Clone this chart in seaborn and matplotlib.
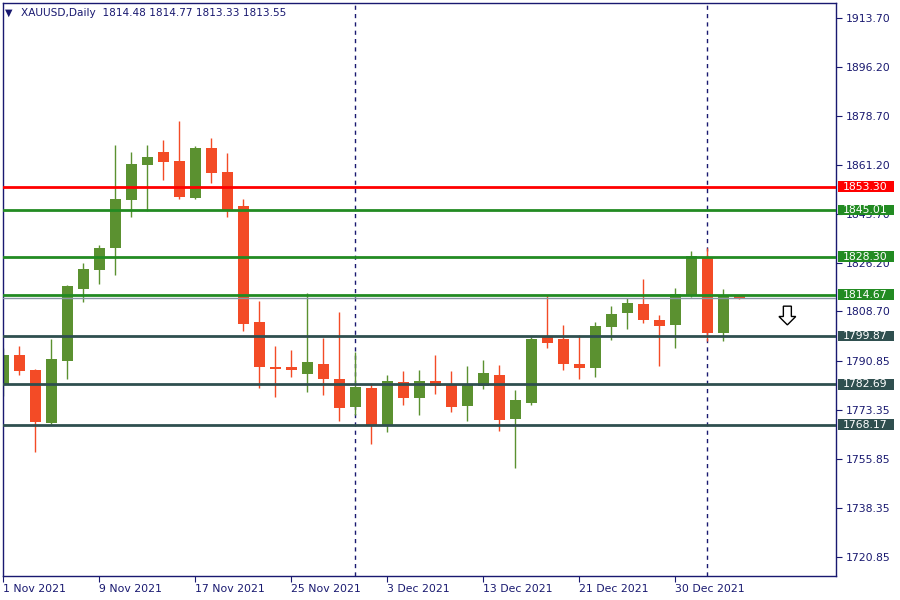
import numpy as np
import pandas as pd
import matplotlib
matplotlib.use("Agg")
import matplotlib.pyplot as plt
import matplotlib.transforms as mtransforms
from matplotlib.patches import Rectangle, FancyArrow
import seaborn as sns

# daily OHLC, XAUUSD, 1 Nov 2021 .. 3 Jan 2022
opens = [1782.75, 1793.12, 1787.76, 1768.90, 1790.98, 1816.74, 1823.54, 1831.52, 1848.69, 1861.21,
         1865.76, 1862.54, 1849.41, 1867.19, 1858.60, 1846.44, 1804.93, 1788.83, 1788.83, 1786.33,
         1789.90, 1784.54, 1774.52, 1781.32, 1767.72, 1783.46, 1777.74, 1783.82, 1782.39, 1774.88,
         1782.03, 1785.97, 1770.23, 1775.95, 1799.56, 1798.85, 1789.90, 1788.47, 1803.14, 1808.15,
         1811.37, 1805.65, 1803.86, 1814.23, 1828.19, 1801.00, 1814.48]
highs = [1795.74, 1796.34, 1788.12, 1798.85, 1818.17, 1826.04, 1832.48, 1868.26, 1865.76, 1868.26,
         1870.05, 1876.85, 1867.90, 1870.76, 1865.40, 1848.94, 1812.45, 1796.34, 1794.91, 1815.31,
         1799.21, 1808.51, 1794.20, 1783.11, 1785.97, 1787.40, 1787.76, 1793.12, 1787.40, 1789.19,
         1791.34, 1789.55, 1780.60, 1799.56, 1814.59, 1803.86, 1800.28, 1804.93, 1810.66, 1813.52,
         1820.32, 1807.44, 1817.10, 1830.33, 1831.41, 1816.74, 1814.77]
lows = [1778.56, 1785.97, 1758.53, 1768.33, 1784.54, 1812.20, 1818.53, 1821.75, 1842.61, 1844.75,
        1855.74, 1848.94, 1848.94, 1854.77, 1842.61, 1801.71, 1781.32, 1778.10, 1785.25, 1779.89,
        1778.81, 1769.51, 1771.66, 1761.28, 1765.57, 1775.24, 1771.66, 1779.17, 1772.73, 1769.51,
        1780.96, 1765.93, 1752.69, 1775.24, 1795.63, 1787.76, 1784.54, 1785.25, 1798.49, 1802.43,
        1804.57, 1789.19, 1795.63, 1813.87, 1798.13, 1798.13, 1813.33]
closes = [1793.12, 1787.51, 1769.15, 1791.69, 1817.81, 1823.89, 1831.41, 1848.94, 1861.46, 1863.97,
          1862.29, 1849.76, 1867.19, 1858.35, 1845.00, 1804.22, 1788.94, 1788.12, 1787.76, 1790.62,
          1784.54, 1774.16, 1781.68, 1768.08, 1783.82, 1777.74, 1783.82, 1782.03, 1774.52, 1782.75,
          1786.68, 1769.87, 1777.02, 1798.85, 1797.42, 1789.90, 1788.47, 1803.50, 1807.79, 1811.73,
          1805.65, 1803.50, 1814.95, 1828.55, 1801.00, 1814.23, 1813.55]

level_prices = [1853.30, 1845.01, 1828.30, 1814.67, 1799.87, 1782.69, 1768.17]
level_colors = ["#ff0000", "#228b22", "#228b22", "#228b22", "#2f4f4f", "#2f4f4f", "#2f4f4f"]
bid = 1813.55

y_ticks = [1913.70, 1896.20, 1878.70, 1861.20, 1843.70, 1826.20, 1808.70,
           1790.85, 1773.35, 1755.85, 1738.35, 1720.85]
date_idx = [0, 6, 12, 18, 24, 30, 36, 42]
date_labels = ["1 Nov 2021", "9 Nov 2021", "17 Nov 2021", "25 Nov 2021",
               "3 Dec 2021", "13 Dec 2021", "21 Dec 2021", "30 Dec 2021"]
separators = [22, 44]

df = pd.DataFrame({"open": opens, "high": highs, "low": lows, "close": closes})
df["x"] = np.arange(len(df))
df["up"] = df["close"] >= df["open"]

sns.set_style("white")
plt.rcParams["font.family"] = ["DejaVu Sans"]

NAVY = "#191970"
GREEN = "#5b9130"
RED = "#f34b26"

fig = plt.figure(figsize=(9, 6), dpi=100)
ax = fig.add_axes([3 / 900, 24 / 600, 833 / 900, 573 / 600])

colors = np.where(df["up"], GREEN, RED)

# period separators
for s in separators:
    ax.axvline(s, color=NAVY, lw=1, ls=(0, (3, 3)), zorder=1)

# candles
ax.vlines(df["x"], df["low"], df["high"], colors=colors, lw=1, zorder=2)
body_lo = df[["open", "close"]].min(axis=1)
body_h = (df["close"] - df["open"]).abs().clip(lower=0.6)
ax.bar(df["x"], body_h, bottom=body_lo, width=0.69, color=colors, linewidth=0, zorder=2)

# bid line
ax.axhline(bid, color="#8a97a6", lw=1, zorder=3)

# horizontal levels
for p, c in zip(level_prices, level_colors):
    ax.axhline(p, color=c, lw=2, zorder=4)

# arrow
ax.add_patch(FancyArrow(49, 1810.6, 0, -6.7, width=0.5, head_width=1.05, head_length=3.0,
                        length_includes_head=True, fc="white", ec="black", lw=1, zorder=5))

ax.set_xlim(-0.02, 52.04)
ax.set_ylim(1714.05, 1919.07)

ax.yaxis.tick_right()
ax.set_yticks(y_ticks)
ax.set_yticklabels([f"{v:.2f}" for v in y_ticks])
ax.set_xticks(date_idx)
ax.set_xticklabels(date_labels, ha="left")
ax.tick_params(axis="y", right=True, left=False, length=4, width=0.8, colors=NAVY,
               labelsize=7.8, pad=3)
ax.tick_params(axis="x", bottom=True, length=4, width=0.8, colors=NAVY, labelsize=7.8, pad=2)
for sp in ax.spines.values():
    sp.set_color(NAVY)
    sp.set_linewidth(1)
    sp.set_visible(True)

# price boxes on the right scale (they cover the scale labels beneath, as in the terminal)
trans = mtransforms.blended_transform_factory(ax.transAxes, ax.transData)
box_h = 10.7 * (1919.07 - 1714.05) / 573
for p, c in zip(level_prices, level_colors):
    ax.add_patch(Rectangle((1.0024, p - box_h / 2), 56 / 833, box_h, transform=trans,
                           fc=c, ec="none", clip_on=False, zorder=6))
    ax.text(1.0078, p, f"{p:.2f}", transform=trans, color="white", fontsize=7.8,
            ha="left", va="center", clip_on=False, zorder=7)

# header
fig.text(5 / 900, 1 - 12.5 / 600, "\u25bc", color=NAVY, fontsize=7, ha="left", va="center")
fig.text(21 / 900, 1 - 12.5 / 600, "XAUUSD,Daily  1814.48 1814.77 1813.33 1813.55",
         color=NAVY, fontsize=7.6, ha="left", va="center")

fig.savefig("out.png", dpi=100, facecolor="white")
